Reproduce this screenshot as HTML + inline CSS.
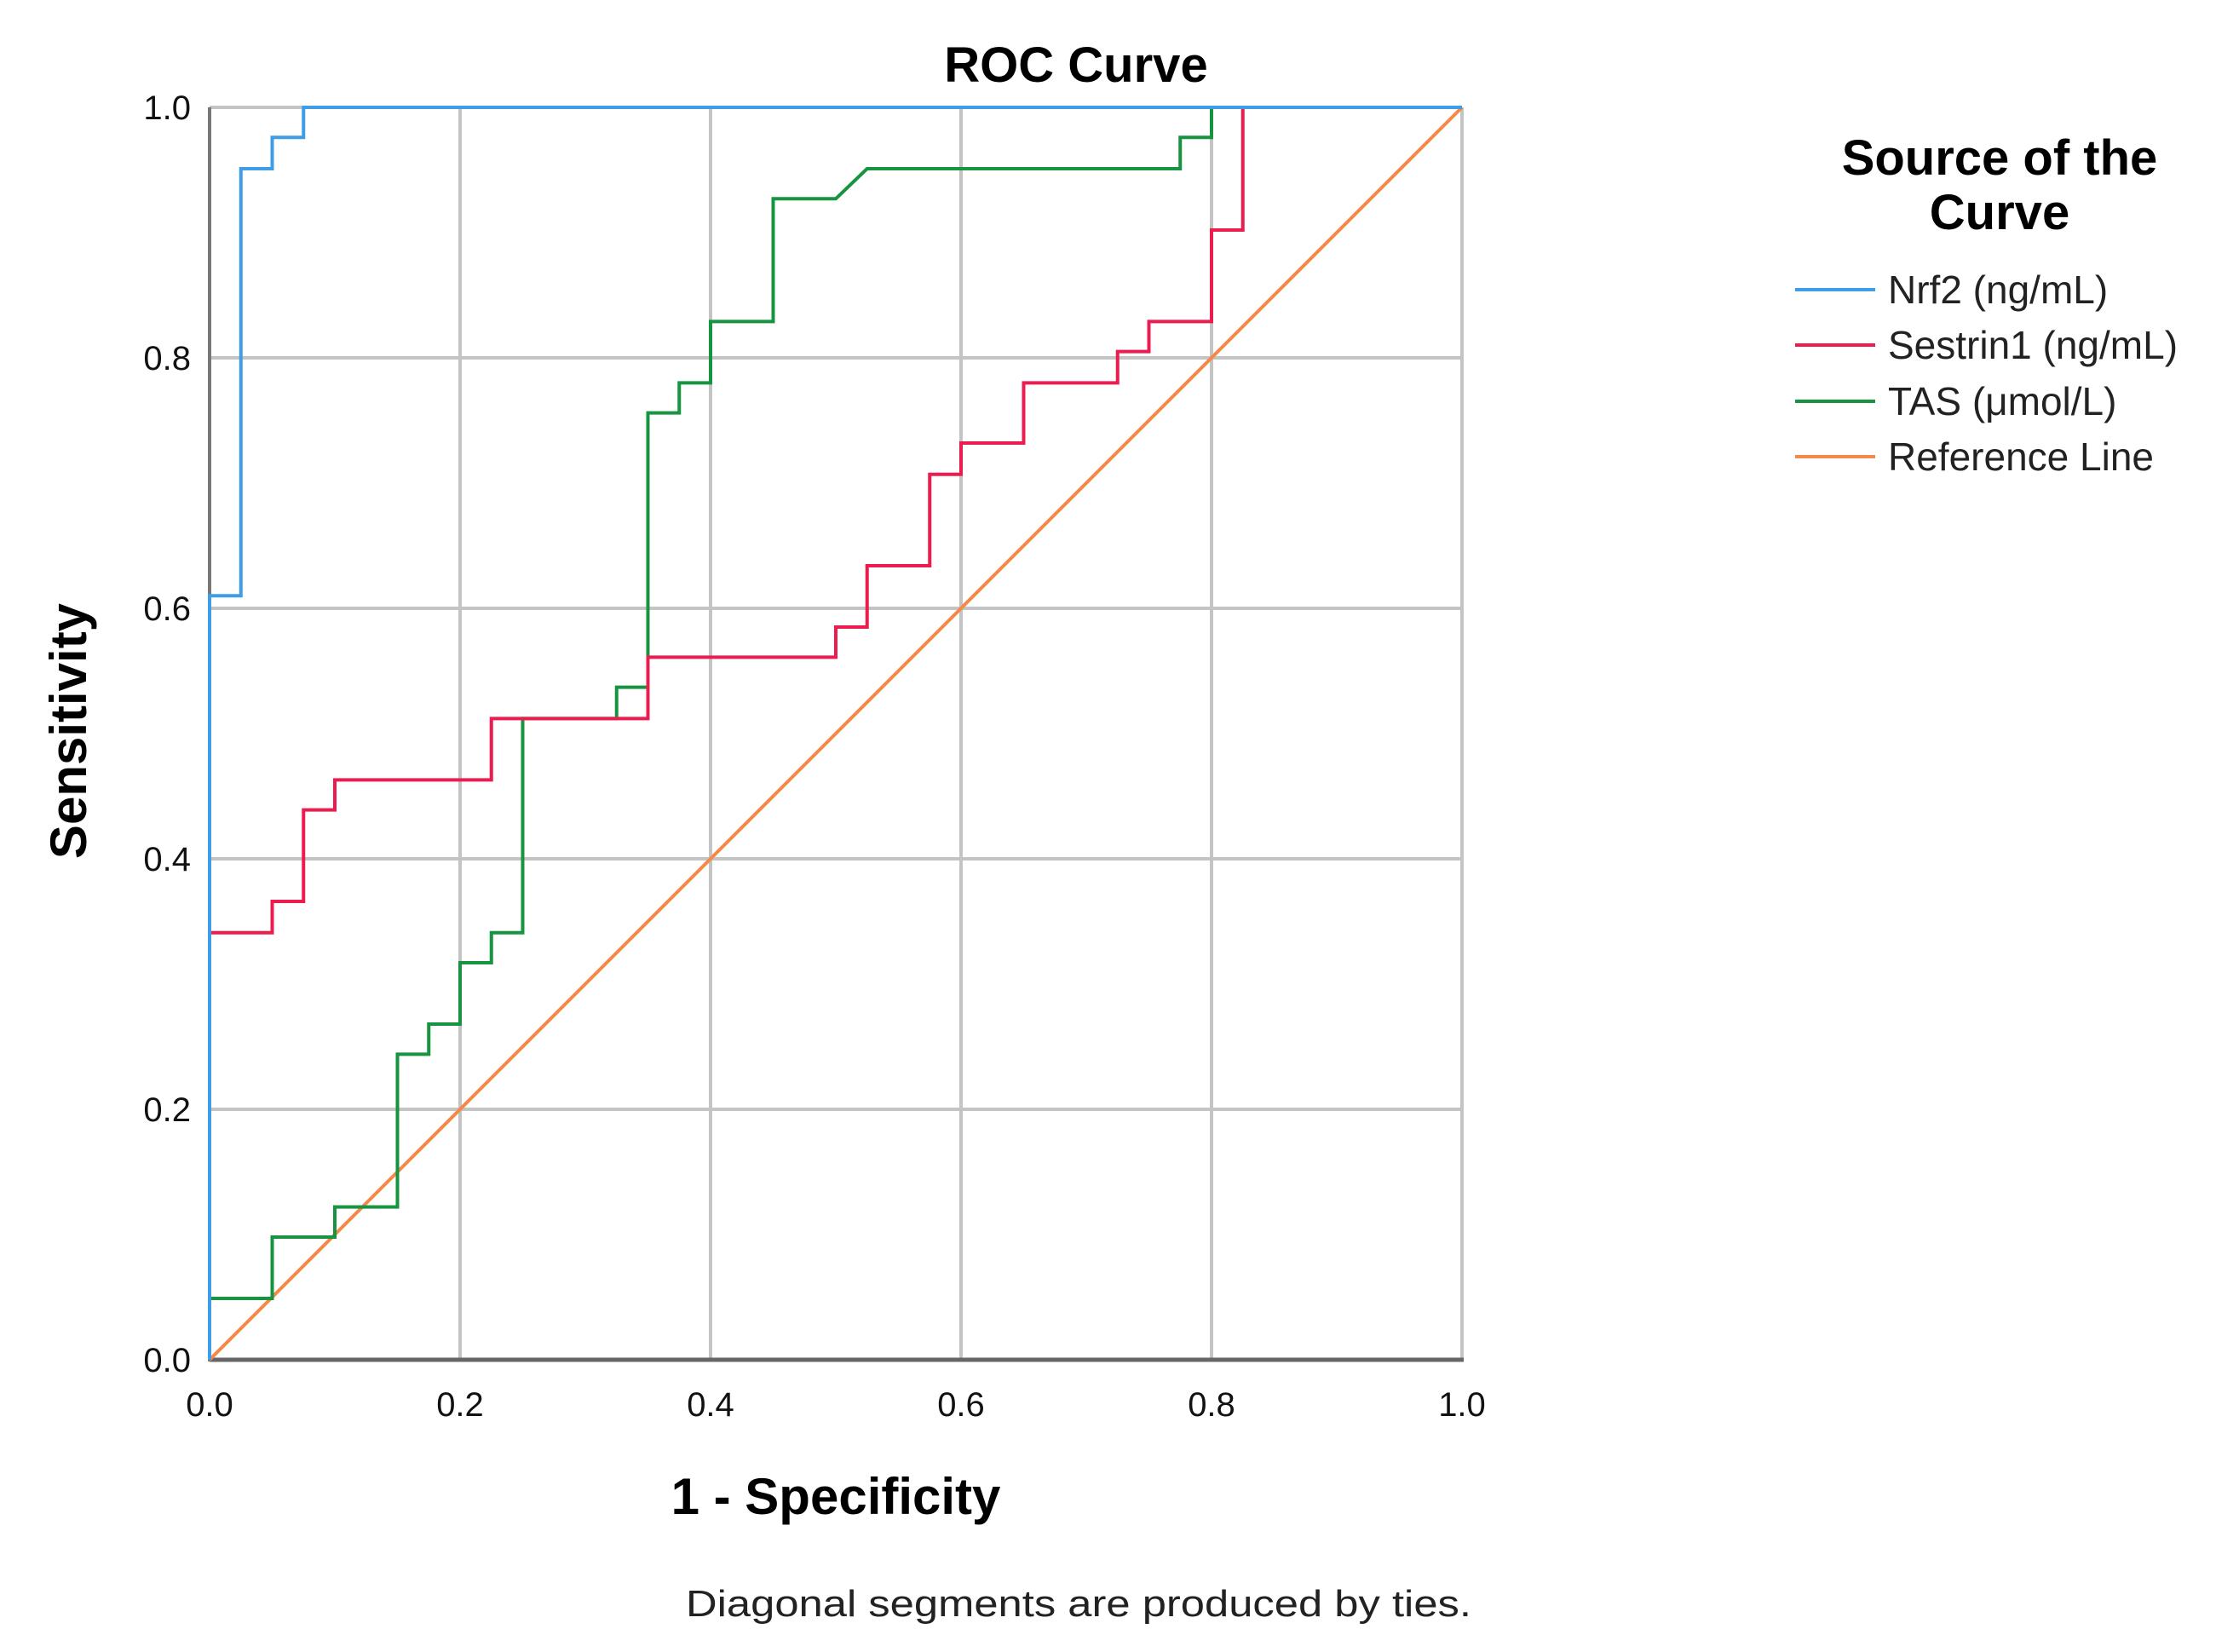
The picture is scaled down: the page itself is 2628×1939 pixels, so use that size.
<!DOCTYPE html>
<html><head><meta charset="utf-8"><style>
html,body{margin:0;padding:0;background:#fff;}
svg{display:block;font-family:"Liberation Sans",Arial,sans-serif;}
</style></head><body>
<svg id="chart" width="2628" height="1939" viewBox="0 0 2628 1939">
<text x="1263" y="96" font-size="58" font-weight="bold" text-anchor="middle">ROC Curve</text>
<g id="grid"></g>
<g id="ticks"></g>
<g id="series"></g>
<text x="981" y="1777" font-size="60" font-weight="bold" text-anchor="middle">1 - Specificity</text>
<text transform="translate(101,858) rotate(-90)" font-size="60" font-weight="bold" text-anchor="middle">Sensitivity</text>
<text x="1266" y="1897" font-size="44" text-anchor="middle" textLength="922" lengthAdjust="spacingAndGlyphs" fill="#222">Diagonal segments are produced by ties.</text>
<g>
<text x="2347" y="205" font-size="58" font-weight="bold" text-anchor="middle">Source of the</text>
<text x="2347" y="269" font-size="58" font-weight="bold" text-anchor="middle">Curve</text>
<g id="legend-entries"></g>
</g>
</svg>
<script>
const ns="http://www.w3.org/2000/svg";
const X0=246,X1=1716,Y0=1596,Y1=126;
const xs=v=>X0+(X1-X0)*v, ys=v=>Y0-(Y0-Y1)*v;
const tickValues=[0,0.2,0.4,0.6,0.8,1.0];
const tickLabels=["0.0","0.2","0.4","0.6","0.8","1.0"];
const seriesNames=["Nrf2 (ng/mL)","Sestrin1 (ng/mL)","TAS (μmol/L)","Reference Line"];
const seriesColors=["#3f9de8","#ec1c4f","#17943f","#f5894a"];
const nrf2X=[0,0,0.025,0.025,0.05,0.05,0.075,0.075,1];
const nrf2Y=[0,0.61,0.61,0.951,0.951,0.976,0.976,1,1];
const sesX=[0,0,0.05,0.05,0.075,0.075,0.1,0.1,0.225,0.225,0.35,0.35,0.5,0.5,0.525,0.525,0.575,0.575,0.6,0.6,0.65,0.65,0.725,0.725,0.75,0.75,0.8,0.8,0.825,0.825,1];
const sesY=[0,0.341,0.341,0.366,0.366,0.439,0.439,0.463,0.463,0.512,0.512,0.561,0.561,0.585,0.585,0.634,0.634,0.707,0.707,0.732,0.732,0.78,0.78,0.805,0.805,0.829,0.829,0.902,0.902,1,1];
const tasX=[0,0,0.05,0.05,0.1,0.1,0.15,0.15,0.175,0.175,0.2,0.2,0.225,0.225,0.25,0.25,0.325,0.325,0.35,0.35,0.375,0.375,0.4,0.4,0.45,0.45,0.5,0.525,0.775,0.775,0.8,0.8,1];
const tasY=[0,0.049,0.049,0.098,0.098,0.122,0.122,0.244,0.244,0.268,0.268,0.317,0.317,0.341,0.341,0.512,0.512,0.537,0.537,0.756,0.756,0.78,0.78,0.829,0.829,0.927,0.927,0.951,0.951,0.976,0.976,1,1];
const refX=[0,1];
const refY=[0,1];
const grid=document.getElementById('grid');
function mk(tag,attrs,parent){const e=document.createElementNS(ns,tag);for(const k in attrs)e.setAttribute(k,attrs[k]);parent.appendChild(e);return e;}
tickValues.forEach((v,i)=>{
  const gx=mk('line',{x1:xs(v),x2:xs(v),y1:Y1,y2:Y0,stroke:'#c4c4c4','stroke-width':4},grid);
  
  
  const gy=mk('line',{x1:X0,x2:X1,y1:ys(v),y2:ys(v),stroke:'#c4c4c4','stroke-width':4},grid);
  
  
});
const ax1=mk('line',{x1:X0,x2:X0,y1:Y1,y2:Y0+2,stroke:'#777','stroke-width':4},grid);


const ax2=mk('line',{x1:X0,x2:X1+2,y1:Y0,y2:Y0,stroke:'#666','stroke-width':5},grid);


const ticks=document.getElementById('ticks');
tickValues.forEach((v,i)=>{
  const t=mk('text',{x:xs(v),y:1662,'font-size':40,'text-anchor':'middle',fill:'#111'},ticks);
  t.textContent=tickLabels[i];
  
  
  const u=mk('text',{x:224,y:ys(v)+14,'font-size':40,'text-anchor':'end',fill:'#111'},ticks);
  u.textContent=tickLabels[i];
  
  
});
const sg=document.getElementById('series');
const data=[[refX,refY],[tasX,tasY],[sesX,sesY],[nrf2X,nrf2Y]];
const idx=[3,2,1,0];
const names=['reference-line','tas-curve','sestrin1-curve','nrf2-curve'];
data.forEach((d,k)=>{
  const pts=d[0].map((x,i)=>xs(x)+','+ys(d[1][i])).join(' ');
  const p=mk('polyline',{points:pts,fill:'none',stroke:seriesColors[idx[k]],'stroke-width':4,'stroke-linejoin':'miter'},sg);
  
  
});
const lg=document.getElementById('legend-entries');
const ly=[340,405,471,536];
seriesNames.forEach((n,i)=>{
  const l=mk('line',{x1:2107,x2:2201,y1:ly[i],y2:ly[i],stroke:seriesColors[i],'stroke-width':4},lg);
  
  
  const t=mk('text',{x:2216,y:ly[i]+16,'font-size':46,fill:'#222'},lg);
  t.textContent=n;
  
  
});
</script>
</body></html>
